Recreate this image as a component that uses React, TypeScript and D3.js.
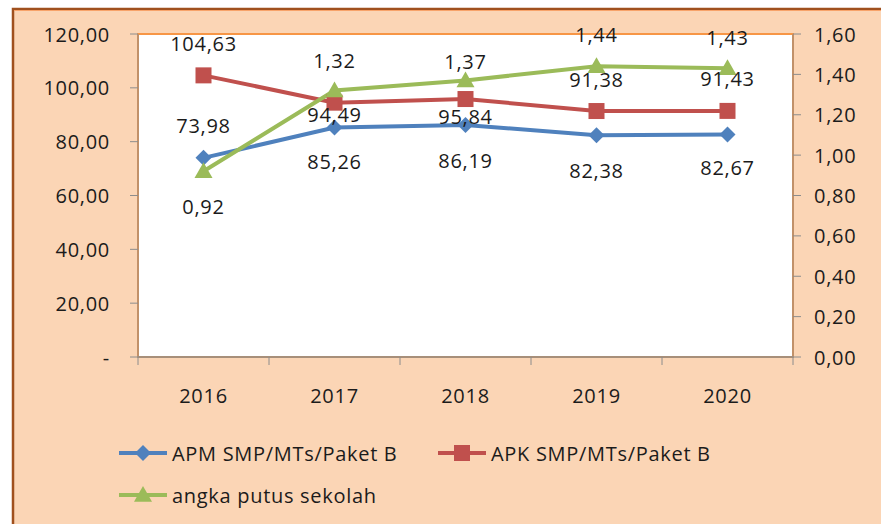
import React from "react";
import * as d3 from "d3";

const years = ["2016", "2017", "2018", "2019", "2020"];
const apm = [73.98, 85.26, 86.19, 82.38, 82.67];
const apk = [104.63, 94.49, 95.84, 91.38, 91.43];
const putus = [0.92, 1.32, 1.37, 1.44, 1.43];
const leftTicks = [0, 20, 40, 60, 80, 100, 120];
const rightTicks = [0, 0.2, 0.4, 0.6, 0.8, 1.0, 1.2, 1.4, 1.6];
const seriesNames = ["APM SMP/MTs/Paket B", "APK SMP/MTs/Paket B", "angka putus sekolah"];

// label vertical offsets (style)
const apmDy = [-32, 34, 35, 35, 33];
const apkDy = [-32, 12, 17, -32, -32];
const putusDy = [35, -30, -19, -32, -31];

const W = 881, H = 524;
const P = { l: 138, r: 793, t: 34, b: 357 };
const FONT = "'Open Sans', sans-serif";
const FS = 20;
const LS = 0.7;
const TXT = "#1b1b1b";
const BLUE = "#4F81BD", RED = "#C0504D", GREEN = "#9BBB59";

const fmt = (v: number) => d3.format(".2f")(v).replace(".", ",");

export default function App() {
  const x = d3.scaleBand<string>().domain(years).range([P.l, P.r]);
  const yL = d3.scaleLinear().domain([0, 120]).range([P.b, P.t]);
  const yR = d3.scaleLinear().domain([0, 1.6]).range([P.b, P.t]);
  const cx = (d: string) => (x(d) as number) + x.bandwidth() / 2;

  const lineL = d3.line<number>().x((_, i) => cx(years[i])).y((d) => yL(d));
  const lineR = d3.line<number>().x((_, i) => cx(years[i])).y((d) => yR(d));

  const diamond = (px: number, py: number, s = 8) =>
    `M${px},${py - s}L${px + s},${py}L${px},${py + s}L${px - s},${py}Z`;
  const tri = (px: number, py: number, s = 9) =>
    `M${px},${py - s}L${px + s},${py + s * 0.75}L${px - s},${py + s * 0.75}Z`;

  const bounds = x.domain().map((d) => x(d) as number).concat([P.r]);

  const legendItems = [
    { name: seriesNames[0], color: BLUE, kind: "d", lx: 119, ly: 453 },
    { name: seriesNames[1], color: RED, kind: "s", lx: 438, ly: 453 },
    { name: seriesNames[2], color: GREEN, kind: "t", lx: 119, ly: 495 },
  ];

  const T = (props: any) => (
    <text dominantBaseline="central" fontSize={FS} fill={TXT} letterSpacing={LS} {...props} />
  );

  return (
    <svg width={W} height={H} style={{ position: "absolute", left: 0, top: 0, display: "block" }} fontFamily={FONT}>
      <rect x={0} y={0} width={W} height={H} fill="#ffffff" />
      <rect x={13} y={9} width={W + 20} height={H + 20} fill="#FBD5B5" stroke="#A0501E" strokeWidth={2.5} />
      <line x1={14} x2={W} y1={10.5} y2={10.5} stroke="#F7A36A" strokeWidth={1} />
      {/* plot area */}
      <rect x={P.l} y={P.t} width={P.r - P.l} height={P.b - P.t} fill="#ffffff" stroke="#F79646" strokeWidth={2} />
      {/* axes */}
      <line x1={P.l} x2={P.l} y1={P.t} y2={P.b} stroke="#8C8C8C" strokeWidth={1} />
      <line x1={P.r} x2={P.r} y1={P.t} y2={P.b} stroke="#8C8C8C" strokeWidth={1} />
      <line x1={P.l} x2={P.r} y1={P.b} y2={P.b} stroke="#8C8C8C" strokeWidth={1.5} />
      {leftTicks.map((t) => (
        <g key={"l" + t}>
          <line x1={P.l - 8} x2={P.l} y1={yL(t)} y2={yL(t)} stroke="#8C8C8C" />
          <T x={P.l - 28} y={yL(t)} textAnchor="end">
            {t === 0 ? "-" : fmt(t)}
          </T>
        </g>
      ))}
      {rightTicks.map((t) => (
        <g key={"r" + t}>
          <line x1={P.r} x2={P.r + 8} y1={yR(t)} y2={yR(t)} stroke="#8C8C8C" />
          <T x={P.r + 21} y={yR(t)} textAnchor="start">
            {fmt(t)}
          </T>
        </g>
      ))}
      {bounds.map((b, i) => (
        <line key={"xb" + i} x1={b} x2={b} y1={P.b} y2={P.b + 8} stroke="#8C8C8C" />
      ))}
      {years.map((yv) => (
        <T key={yv} x={cx(yv)} y={395} textAnchor="middle">
          {yv}
        </T>
      ))}
      {/* lines */}
      <path d={lineL(apk) as string} fill="none" stroke={RED} strokeWidth={4} />
      <path d={lineL(apm) as string} fill="none" stroke={BLUE} strokeWidth={4} />
      <path d={lineR(putus) as string} fill="none" stroke={GREEN} strokeWidth={4} />
      {apk.map((v, i) => (
        <rect key={"ms" + i} x={cx(years[i]) - 8} y={yL(v) - 8} width={16} height={16} fill={RED} />
      ))}
      {apm.map((v, i) => (
        <path key={"md" + i} d={diamond(cx(years[i]), yL(v))} fill={BLUE} />
      ))}
      {putus.map((v, i) => (
        <path key={"mt" + i} d={tri(cx(years[i]), yR(v))} fill={GREEN} />
      ))}
      {/* labels */}
      {apm.map((v, i) => (
        <T key={"la" + i} x={cx(years[i])} y={yL(v) + apmDy[i]} textAnchor="middle">
          {fmt(v)}
        </T>
      ))}
      {apk.map((v, i) => (
        <T key={"lk" + i} x={cx(years[i])} y={yL(v) + apkDy[i]} textAnchor="middle">
          {fmt(v)}
        </T>
      ))}
      {putus.map((v, i) => (
        <T key={"lp" + i} x={cx(years[i])} y={yR(v) + putusDy[i]} textAnchor="middle">
          {fmt(v)}
        </T>
      ))}
      {/* legend */}
      {legendItems.map((it) => (
        <g key={it.name}>
          <line x1={it.lx} x2={it.lx + 48} y1={it.ly} y2={it.ly} stroke={it.color} strokeWidth={4} />
          {it.kind === "d" && <path d={diamond(it.lx + 24, it.ly)} fill={it.color} />}
          {it.kind === "s" && <rect x={it.lx + 16} y={it.ly - 8} width={16} height={16} fill={it.color} />}
          {it.kind === "t" && <path d={tri(it.lx + 24, it.ly)} fill={it.color} />}
          <T x={it.lx + 53} y={it.ly}>
            {it.name}
          </T>
        </g>
      ))}
    </svg>
  );
}
